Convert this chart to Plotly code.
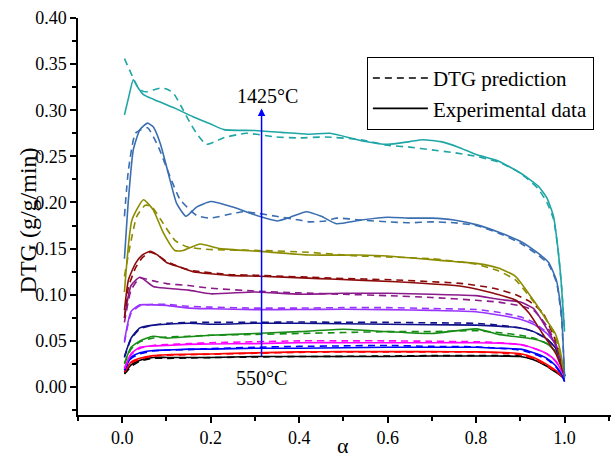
import plotly.graph_objects as go

# ---------------- data ----------------
alpha_low = [0.005, 0.02, 0.04, 0.07, 0.1, 0.15, 0.2, 0.3, 0.4, 0.5, 0.6, 0.7,
             0.8, 0.85, 0.9, 0.93, 0.96, 0.98, 0.995, 1.0]

exp_black = [0.015, 0.024, 0.029, 0.032, 0.032, 0.032, 0.032, 0.033, 0.033, 0.033,
             0.033, 0.0335, 0.0336, 0.0335, 0.033, 0.0295, 0.0225, 0.016, 0.011, 0.009]
pred_black = [0.014, 0.022, 0.028, 0.031, 0.031, 0.0315, 0.0318, 0.0325, 0.033, 0.0332,
              0.0335, 0.034, 0.034, 0.034, 0.0335, 0.030, 0.023, 0.017, 0.011, 0.009]
exp_red = [0.0166, 0.027, 0.031, 0.034, 0.035, 0.0354, 0.0358, 0.037, 0.038, 0.0383,
           0.0383, 0.0383, 0.038, 0.0375, 0.036, 0.032, 0.0245, 0.018, 0.012, 0.01]
pred_red = [0.016, 0.026, 0.030, 0.0335, 0.0345, 0.035, 0.0355, 0.0365, 0.0375, 0.038,
            0.038, 0.038, 0.0378, 0.037, 0.035, 0.031, 0.023, 0.017, 0.011, 0.01]
exp_blue = [0.0184, 0.032, 0.037, 0.0395, 0.040, 0.041, 0.041, 0.042, 0.042, 0.0425,
            0.043, 0.043, 0.043, 0.042, 0.041, 0.037, 0.031, 0.023, 0.012, 0.006]
pred_blue = [0.018, 0.031, 0.036, 0.039, 0.040, 0.0405, 0.0415, 0.043, 0.044, 0.0445,
             0.045, 0.044, 0.0435, 0.042, 0.040, 0.036, 0.030, 0.022, 0.012, 0.006]
exp_magenta = [0.0203, 0.036, 0.043, 0.0445, 0.045, 0.0462, 0.0466, 0.047, 0.048, 0.048,
               0.048, 0.048, 0.048, 0.0475, 0.046, 0.042, 0.036, 0.028, 0.016, 0.012]
pred_magenta = [0.020, 0.035, 0.042, 0.045, 0.046, 0.047, 0.048, 0.049, 0.050, 0.050,
                0.050, 0.0495, 0.049, 0.048, 0.046, 0.042, 0.036, 0.028, 0.016, 0.012]
exp_green = [0.0257, 0.043, 0.050, 0.055, 0.053, 0.0545, 0.056, 0.058, 0.060, 0.0625,
             0.060, 0.058, 0.063, 0.057, 0.054, 0.052, 0.047, 0.038, 0.020, 0.012]
pred_green = [0.025, 0.041, 0.049, 0.053, 0.054, 0.055, 0.056, 0.057, 0.058, 0.059,
              0.060, 0.060, 0.061, 0.059, 0.056, 0.053, 0.047, 0.038, 0.020, 0.012]
exp_navy = [0.033, 0.053, 0.064, 0.067, 0.068, 0.069, 0.068, 0.069, 0.069, 0.0685,
            0.068, 0.0675, 0.067, 0.066, 0.064, 0.060, 0.052, 0.042, 0.022, 0.012]
pred_navy = [0.032, 0.052, 0.063, 0.067, 0.069, 0.070, 0.070, 0.070, 0.0705, 0.070,
             0.070, 0.0695, 0.069, 0.067, 0.064, 0.060, 0.052, 0.042, 0.022, 0.012]
exp_violet = [0.050, 0.082, 0.089, 0.089, 0.0885, 0.0855, 0.0848, 0.0838, 0.084, 0.0842,
              0.0838, 0.083, 0.0816, 0.078, 0.0735, 0.068, 0.058, 0.046, 0.025, 0.012]
pred_violet = [0.048, 0.080, 0.088, 0.0895, 0.0895, 0.0875, 0.0865, 0.0855, 0.0855, 0.086,
               0.086, 0.085, 0.084, 0.081, 0.076, 0.070, 0.059, 0.046, 0.025, 0.012]
exp_purple = [0.075, 0.110, 0.119, 0.109, 0.107, 0.105, 0.101, 0.103, 0.1005, 0.1016,
              0.1016, 0.1005, 0.099, 0.095, 0.092, 0.085, 0.063, 0.045, 0.022, 0.012]
pred_purple = [0.070, 0.105, 0.118, 0.115, 0.112, 0.110, 0.107, 0.104, 0.102, 0.1005,
               0.099, 0.097, 0.094, 0.092, 0.088, 0.083, 0.066, 0.047, 0.022, 0.012]

alpha_wine = [0.005, 0.014, 0.03, 0.045, 0.063, 0.08, 0.1, 0.13, 0.16, 0.24, 0.31, 0.42,
              0.47, 0.62, 0.77, 0.84, 0.89, 0.92, 0.95, 0.98, 1.0]
exp_wine = [0.083, 0.116, 0.134, 0.143, 0.147, 0.143, 0.135, 0.130, 0.125, 0.121, 0.120,
            0.118, 0.117, 0.114, 0.109, 0.1015, 0.094, 0.080, 0.058, 0.0365, 0.012]
pred_wine = [0.075, 0.108, 0.129, 0.140, 0.146, 0.143, 0.136, 0.130, 0.126, 0.122, 0.121,
             0.119, 0.118, 0.116, 0.112, 0.107, 0.100, 0.093, 0.081, 0.050, 0.012]

alpha_olive_exp = [0.005, 0.022, 0.048, 0.07, 0.093, 0.119, 0.138, 0.176, 0.221, 0.311,
                   0.423, 0.536, 0.6, 0.65, 0.7, 0.75, 0.8, 0.85, 0.889, 0.934, 0.96,
                   0.979, 0.99, 0.998]
exp_olive = [0.103, 0.181, 0.203, 0.192, 0.167, 0.148, 0.148, 0.155, 0.150, 0.147,
             0.143, 0.143, 0.142, 0.140, 0.138, 0.136, 0.134, 0.129, 0.120, 0.091,
             0.072, 0.058, 0.040, 0.018]
alpha_olive_pred = [0.005, 0.033, 0.052, 0.066, 0.093, 0.119, 0.146, 0.198, 0.311, 0.42,
                    0.536, 0.6, 0.7, 0.8, 0.85, 0.889, 0.934, 0.96, 0.979, 0.998]
pred_olive = [0.120, 0.185, 0.197, 0.196, 0.177, 0.159, 0.152, 0.149, 0.148, 0.146,
              0.142, 0.141, 0.139, 0.133, 0.126, 0.116, 0.090, 0.072, 0.055, 0.018]

alpha_steel_exp = [0.005, 0.014, 0.025, 0.04, 0.057, 0.07, 0.086, 0.104, 0.123, 0.144,
                   0.168, 0.2, 0.25, 0.31, 0.35, 0.38, 0.416, 0.45, 0.484, 0.54, 0.6,
                   0.65, 0.7, 0.75, 0.8, 0.85, 0.9, 0.94, 0.964, 0.982, 0.993, 1.0]
exp_steel = [0.139, 0.203, 0.257, 0.279, 0.286, 0.282, 0.264, 0.232, 0.199, 0.185,
             0.195, 0.201, 0.195, 0.185, 0.180, 0.184, 0.190, 0.185, 0.177, 0.181,
             0.184, 0.183, 0.183, 0.181, 0.176, 0.168, 0.158, 0.145, 0.135, 0.115,
             0.080, 0.010]
alpha_steel_pred = [0.005, 0.014, 0.03, 0.057, 0.082, 0.108, 0.131, 0.168, 0.198, 0.25,
                    0.273, 0.31, 0.348, 0.4, 0.423, 0.46, 0.484, 0.54, 0.6, 0.65, 0.7,
                    0.75, 0.8, 0.85, 0.9, 0.94, 0.964, 0.982, 0.993, 1.0]
pred_steel = [0.185, 0.235, 0.275, 0.281, 0.260, 0.228, 0.203, 0.186, 0.183, 0.188,
              0.190, 0.188, 0.185, 0.181, 0.179, 0.180, 0.183, 0.181, 0.179, 0.178,
              0.179, 0.178, 0.175, 0.167, 0.156, 0.143, 0.133, 0.113, 0.075, 0.010]

alpha_teal_exp = [0.005, 0.015, 0.025, 0.035, 0.048, 0.07, 0.09, 0.12, 0.16, 0.2, 0.23,
                  0.3, 0.36, 0.42, 0.47, 0.54, 0.6, 0.65, 0.68, 0.72, 0.76, 0.8, 0.85,
                  0.9, 0.94, 0.96, 0.975, 0.985, 0.993, 1.0]
exp_teal = [0.295, 0.315, 0.333, 0.325, 0.317, 0.312, 0.308, 0.302, 0.293, 0.285, 0.279,
            0.278, 0.276, 0.274, 0.275, 0.267, 0.263, 0.266, 0.268, 0.266, 0.260, 0.252,
            0.245, 0.232, 0.218, 0.205, 0.185, 0.150, 0.110, 0.060]
alpha_teal_pred = [0.005, 0.02, 0.033, 0.045, 0.056, 0.07, 0.086, 0.1, 0.115, 0.138,
                   0.155, 0.168, 0.19, 0.21, 0.228, 0.28, 0.348, 0.4, 0.46, 0.54, 0.6,
                   0.65, 0.7, 0.75, 0.8, 0.85, 0.9, 0.94, 0.96, 0.975, 0.985, 0.993, 1.0]
pred_teal = [0.356, 0.340, 0.327, 0.321, 0.320, 0.322, 0.324, 0.323, 0.319, 0.300,
             0.285, 0.275, 0.263, 0.266, 0.270, 0.275, 0.271, 0.270, 0.271, 0.268,
             0.262, 0.260, 0.257, 0.254, 0.250, 0.244, 0.232, 0.215, 0.200, 0.182,
             0.150, 0.110, 0.060]

series = [
    ("#000000", alpha_low, exp_black, alpha_low, pred_black),
    ("#ff0000", alpha_low, exp_red, alpha_low, pred_red),
    ("#0000ff", alpha_low, exp_blue, alpha_low, pred_blue),
    ("#ff00ff", alpha_low, exp_magenta, alpha_low, pred_magenta),
    ("#168c16", alpha_low, exp_green, alpha_low, pred_green),
    ("#10108a", alpha_low, exp_navy, alpha_low, pred_navy),
    ("#9933ff", alpha_low, exp_violet, alpha_low, pred_violet),
    ("#8b1a8b", alpha_low, exp_purple, alpha_low, pred_purple),
    ("#8b0a0a", alpha_wine, exp_wine, alpha_wine, pred_wine),
    ("#8c8c00", alpha_olive_exp, exp_olive, alpha_olive_pred, pred_olive),
    ("#3a6eb0", alpha_steel_exp, exp_steel, alpha_steel_pred, pred_steel),
    ("#1fa5a5", alpha_teal_exp, exp_teal, alpha_teal_pred, pred_teal),
]

FONT = "Liberation Serif"
DASH = "7px,5px"

fig = go.Figure()
for color, ax_e, ye, ax_p, yp in series:
    fig.add_trace(go.Scatter(x=ax_p, y=yp, mode="lines", showlegend=False,
                             line=dict(color=color, width=1.6, dash=DASH,
                                       shape="spline", smoothing=0.5)))
    fig.add_trace(go.Scatter(x=ax_e, y=ye, mode="lines", showlegend=False,
                             line=dict(color=color, width=1.6,
                                       shape="spline", smoothing=0.5)))

# legend entries
fig.add_trace(go.Scatter(x=[None], y=[None], mode="lines", name="DTG prediction",
                         line=dict(color="black", width=1.6, dash=DASH)))
fig.add_trace(go.Scatter(x=[None], y=[None], mode="lines", name="Experimental data",
                         line=dict(color="black", width=1.6)))

fig.update_layout(
    width=613, height=457,
    margin=dict(l=78, r=2, t=18, b=42),
    paper_bgcolor="white", plot_bgcolor="white",
    font=dict(family=FONT, color="black", size=18),
    showlegend=True,
    legend=dict(x=0.542, y=0.902, xanchor="left", yanchor="top",
                bgcolor="white", bordercolor="black", borderwidth=1,
                font=dict(family=FONT, size=21, color="black"), itemwidth=55,
                tracegroupgap=0),
    xaxis=dict(range=[-0.1, 1.105], tick0=0, dtick=0.2, tickformat=".1f",
               ticks="outside", ticklen=6, tickwidth=1.5, tickcolor="black",
               showline=True, linecolor="black", linewidth=1.5,
               showgrid=False, zeroline=False,
               tickfont=dict(family=FONT, size=18, color="black"),
               minor=dict(dtick=0.1, tick0=0, ticks="outside", ticklen=4,
                          tickwidth=1.5, tickcolor="black", showgrid=False)),
    yaxis=dict(range=[-0.0304, 0.40], tick0=0, dtick=0.05, tickformat=".2f",
               ticks="outside", ticklen=6, tickwidth=1.5, tickcolor="black",
               showline=True, linecolor="black", linewidth=1.5,
               showgrid=False, zeroline=False,
               tickfont=dict(family=FONT, size=18, color="black"),
               minor=dict(dtick=0.025, tick0=0, ticks="outside", ticklen=4,
                          tickwidth=1.5, tickcolor="black", showgrid=False)),
)

fig.add_annotation(x=0.315, y=0.302, ax=0.315, ay=0.032, xref="x", yref="y",
                   axref="x", ayref="y", text="", showarrow=True, arrowhead=2,
                   arrowsize=1, arrowwidth=1.5, arrowcolor="#0000ff")
fig.add_annotation(x=0.329, y=0.315, xref="x", yref="y", text="1425°C",
                   showarrow=False, font=dict(family=FONT, size=20, color="black"))
fig.add_annotation(x=0.315, y=0.0098, xref="x", yref="y", text="550°C",
                   showarrow=False, font=dict(family=FONT, size=20, color="black"))
fig.add_annotation(x=-0.092, y=0.49, xref="paper", yref="paper", text="DTG (g/g/min)",
                   textangle=-90, showarrow=False, xanchor="center", yanchor="middle",
                   font=dict(family=FONT, size=24, color="black"))
fig.add_annotation(x=0.497, y=-0.0756, xref="paper", yref="paper", text="α",
                   showarrow=False, xanchor="center", yanchor="middle",
                   font=dict(family=FONT, size=22, color="black"))

fig.write_html("out.html")
